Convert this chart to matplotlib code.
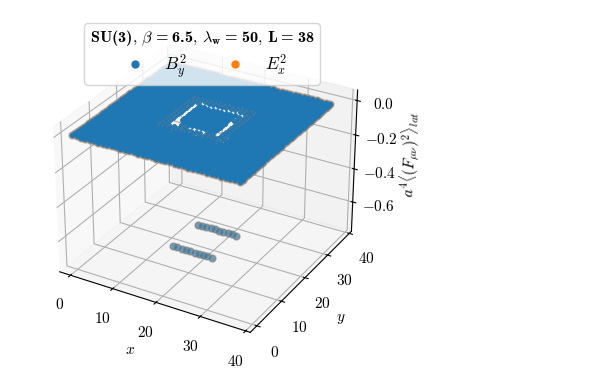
import numpy as np
import matplotlib
matplotlib.use("Agg")
from matplotlib import pyplot as plt
from matplotlib.font_manager import FontProperties
from matplotlib.lines import Line2D

plt.rcParams['font.family'] = ['cmr10', 'DejaVu Serif']
plt.rcParams['mathtext.fontset'] = 'cm'
plt.rcParams['axes.formatter.use_mathtext'] = True
plt.rcParams['axes.unicode_minus'] = False
plt.rcParams['font.size'] = 11

# lattice sites and the values
sites = list(range(38))
plateau_value = 0.0
ring_value = 0.004
wall_x = [14, 15, 16, 17, 18, 19, 20, 21, 22, 23]
wall_y = [14, 24]
wall_low_row_1 = [-0.72, -0.72, -0.72, -0.72, -0.72, -0.72, -0.72, -0.72, -0.72, -0.72]
wall_low_row_2 = [-0.72, -0.72, -0.72, -0.72, -0.72, -0.72, -0.72, -0.72, -0.72, -0.72]
# plateau sites left empty along the square
gap_left_x = [14]
gap_left_y = [14, 15, 16, 17, 18, 19, 20, 21, 22, 23]
gap_blob_x = [14, 15]
gap_blob_y = [14, 15]
gap_right_x = [24]
gap_right_y = [14, 15, 16, 17, 18, 19, 20]
gap_top_x = [15, 16, 17, 18, 19, 20, 21, 22, 23, 24]
gap_top_y = [24]
gap_bottom_x = [18, 19, 20, 21]
gap_bottom_y = [14]
xticks = [0, 10, 20, 30, 40]
yticks = [0, 10, 20, 30, 40]
zticks = [-0.6, -0.4, -0.2, 0.0]

X, Y = np.meshgrid(sites, sites, indexing='ij')
keep = np.ones(X.shape, dtype=bool)
keep[np.ix_(gap_left_x, gap_left_y)] = False
keep[np.ix_(gap_blob_x, gap_blob_y)] = False
keep[np.ix_(gap_right_x, gap_right_y)] = False
keep[np.ix_(gap_top_x, gap_top_y)] = False
keep[np.ix_(gap_bottom_x, gap_bottom_y)] = False
Z = np.full(X.shape, plateau_value)

# outer rim of the plane, only these show the grey edge and the orange below
rim = np.zeros(X.shape, dtype=bool)
rim[[0, -1], :] = True
rim[:, [0, -1]] = True

# dotted band of sites round the square
band = np.zeros(X.shape, dtype=bool)
band[12:27, 12:27] = True
band[15:24, 15:24] = False
band &= keep

# sites far enough from the gaps to take the full marker, so the plane stays solid
solid = np.ones(X.shape, dtype=bool)
solid[11:28, 11:28] = False
solid[16:23, 16:23] = True
solid[rim] = False

low_x = wall_x + wall_x
low_y = [wall_y[0]] * len(wall_x) + [wall_y[1]] * len(wall_x)
low_z = wall_low_row_1 + wall_low_row_2

fig = plt.figure(figsize=(6, 3.7), dpi=100)
ax = fig.add_subplot(111, projection='3d', computed_zorder=False)
ax.set_position([0.057, 0.04, 0.565, 0.916])
ax.view_init(elev=29, azim=-60)

ax.scatter(X[rim], Y[rim], Z[rim], c='C1', s=25, edgecolors='gray', alpha=0.5, depthshade=False, zorder=1)
ax.scatter(X[rim], Y[rim], Z[rim], c='gray', s=22, alpha=0.7, linewidths=0, depthshade=False, zorder=2)
ax.scatter(X[solid], Y[solid], Z[solid], c='C0', s=22, linewidths=0, depthshade=False, zorder=3)
ax.scatter(X[keep], Y[keep], Z[keep], c='C0', s=13, linewidths=0, depthshade=False, zorder=3)
ax.scatter(X[band], Y[band], Z[band] + ring_value, c='gray', s=3, alpha=0.4, linewidths=0, depthshade=False, zorder=4)
ax.scatter(low_x, low_y, low_z, c='C1', s=25, linewidths=0, alpha=0.3, depthshade=False, zorder=2)
ax.scatter(low_x, low_y, low_z, c='C0', s=25, edgecolors='gray', alpha=0.6, depthshade=False, zorder=2)

ax.set_xticks(xticks)
ax.set_yticks(yticks)
ax.set_zticks(zticks)
ax.set_xlim(-2.6, 41)
ax.set_ylim(-2.6, 41)
ax.set_zlim(-0.78, 0.06)
ax.set_xlabel(r'$x$')
ax.set_ylabel(r'$y$')
ax.set_zlabel(r'$a^4 \langle (F_{\mu\nu})^2 \rangle_{lat}$')

handles = [Line2D([], [], ls='', marker='o', color='C0', ms=5),
           Line2D([], [], ls='', marker='o', color='C1', ms=5)]
# text outside the dollars takes the bold roman, so the digits come out bold too
legend_title = r'SU(3)$,\,\beta\;$=$\;$6.5$,\,\lambda_{\mathbf{w}}\;$=$\;$50$,\,$L$\;$=$\;$38'
fig.legend(handles, [r'$B_y^2$', r'$E_x^2$'], ncol=2, fontsize=12.5,
           title=legend_title, title_fontproperties=FontProperties(family='cmb10', size=11.7),
           loc='upper center', bbox_to_anchor=(0.337, 0.961),
           borderpad=0.3, labelspacing=0.2, columnspacing=1.8, handletextpad=0.7)

fig.savefig('out.png', dpi=100)
